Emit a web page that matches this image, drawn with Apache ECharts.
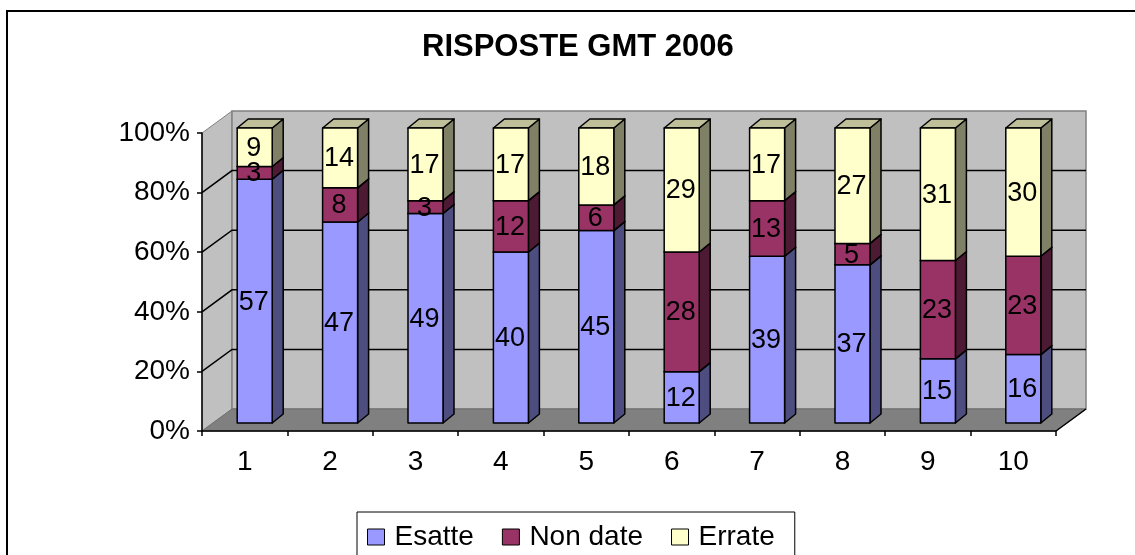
<!DOCTYPE html>
<html lang="it" style="height: 100%">
<head>
  <meta charset="utf-8">
  <title>Risposte GMT 2006</title>
  <style>
    body {
      margin: 0;
      background: #fff;
    }
    #container {
      width: 1135px;
      height: 555px;
    }
  </style>
</head>
<body style="height: 100%">
  <div id="container"></div>

  <script type="text/javascript" src="https://fastly.jsdelivr.net/npm/echarts@6/dist/echarts.min.js"></script>

  <script type="text/javascript">
    // Dati: numero di risposte per domanda
    var domande = ['1', '2', '3', '4', '5', '6', '7', '8', '9', '10'];
    var esatte  = [57, 47, 49, 40, 45, 12, 39, 37, 15, 16];
    var nonDate = [3, 8, 3, 12, 6, 28, 13, 5, 23, 23];
    var errate  = [9, 14, 17, 17, 18, 29, 17, 27, 31, 30];
    var nomiSerie = ['Esatte', 'Non date', 'Errate'];
    var tickPercent = [0, 20, 40, 60, 80, 100];

    var FONT = '"Liberation Sans", Arial, sans-serif';
    // colori: fronte, lato, sopra
    var colori = [
      ['#9999ff', '#4d4d80', '#7a7acc'],
      ['#993366', '#4d1a33', '#7a2952'],
      ['#ffffcc', '#808066', '#bfbf99']
    ];
    var PROF = [30, -22];     // profondità delle pareti
    var BAR_OFF = [10, -8];   // spostamento del fronte barra
    var BAR_PROF = [11, -9];  // profondità della barra

    // percentuali cumulate (100% in pila)
    var valori = [esatte, nonDate, errate];
    var pile = [[], [], []];
    var etichette = [];
    for (var i = 0; i < domande.length; i++) {
      var tot = esatte[i] + nonDate[i] + errate[i];
      var cum = 0;
      for (var s = 0; s < 3; s++) {
        var v = valori[s][i];
        var lo = cum / tot * 100;
        var hi = (cum + v) / tot * 100;
        pile[s].push([i, lo, hi, v]);
        etichette.push([i, (lo + hi) / 2, v]);
        cum += v;
      }
    }

    var dom = document.getElementById('container');
    var myChart = echarts.init(dom, null, { renderer: 'canvas' });

    // y sul piano delle barre (leggera prospettiva)
    function yBarra(api, pct) {
      var y0 = api.coord([0, 0])[1];
      var y = api.coord([0, pct])[1];
      return y0 + BAR_OFF[1] - (y0 - y) * 0.99;
    }

    function renderPareti(params, api) {
      var cs = params.coordSys;
      var x0 = cs.x, x1 = cs.x + cs.width;
      var yZero = api.coord([0, 0])[1];
      var yTop = api.coord([0, 100])[1];
      var dx = PROF[0], dy = PROF[1];
      var figli = [
        { // parete laterale
          type: 'polygon',
          shape: { points: [[x0, yZero], [x0 + dx, yZero + dy], [x0 + dx, yTop + dy], [x0, yTop]] },
          style: { fill: '#c0c0c0', stroke: '#808080', lineWidth: 1 }
        },
        { // parete di fondo
          type: 'rect',
          shape: { x: x0 + dx, y: yTop + dy, width: x1 - x0, height: yZero - yTop },
          style: { fill: '#c0c0c0', stroke: '#808080', lineWidth: 1.5 }
        },
        { // pavimento
          type: 'polygon',
          shape: { points: [[x0, yZero], [x1, yZero], [x1 + dx, yZero + dy], [x0 + dx, yZero + dy]] },
          style: { fill: '#808080', stroke: '#6e6e6e', lineWidth: 1 }
        },
        {
          type: 'line',
          shape: { x1: x1, y1: yZero, x2: x1 + dx, y2: yZero + dy },
          style: { stroke: '#000', lineWidth: 1.5 }
        }
      ];
      for (var k = 1; k < tickPercent.length - 1; k++) {
        var y = api.coord([0, tickPercent[k]])[1];
        figli.push({
          type: 'polyline',
          shape: { points: [[x0, y], [x0 + dx, y + dy], [x1 + dx, y + dy]] },
          style: { stroke: '#000', lineWidth: 1.5, fill: null }
        });
      }
      return { type: 'group', children: figli };
    }

    function creaRenderBarra(s) {
      return function (params, api) {
        var idx = api.value(0);
        var band = api.size([1, 0])[0];
        var w = band * 0.41;
        var xa = api.coord([idx, 0])[0] - w / 2 + BAR_OFF[0];
        var xb = xa + w;
        var yb = yBarra(api, api.value(1));
        var yt = yBarra(api, api.value(2));
        var dx = BAR_PROF[0], dy = BAR_PROF[1];
        var st = { stroke: '#000', lineWidth: 1.5, lineJoin: 'round' };
        return {
          type: 'group',
          children: [
            {
              type: 'polygon',
              shape: { points: [[xb, yb], [xb + dx, yb + dy], [xb + dx, yt + dy], [xb, yt]] },
              style: Object.assign({ fill: colori[s][1] }, st)
            },
            {
              type: 'polygon',
              shape: { points: [[xa, yt], [xb, yt], [xb + dx, yt + dy], [xa + dx, yt + dy]] },
              style: Object.assign({ fill: colori[s][2] }, st)
            },
            {
              type: 'rect',
              shape: { x: xa, y: yt, width: w, height: yb - yt },
              style: Object.assign({ fill: colori[s][0] }, st)
            }
          ]
        };
      };
    }

    function renderEtichette(params, api) {
      var idx = api.value(0);
      var x = api.coord([idx, 0])[0] + BAR_OFF[0] - 1;
      var y = yBarra(api, api.value(1)) + 1;
      return {
        type: 'text',
        style: {
          x: x,
          y: y,
          text: String(api.value(2)),
          fill: '#000',
          font: '27px ' + FONT,
          align: 'center',
          verticalAlign: 'middle'
        }
      };
    }

    var serie = [
      {
        name: 'pareti',
        type: 'custom',
        silent: true,
        z: 1,
        renderItem: renderPareti,
        data: [[0, 0]]
      }
    ];
    for (var s2 = 0; s2 < 3; s2++) {
      serie.push({
        name: nomiSerie[s2],
        type: 'custom',
        z: 2,
        itemStyle: { color: colori[s2][0] },
        renderItem: creaRenderBarra(s2),
        data: pile[s2]
      });
    }
    serie.push({
      name: 'etichette',
      type: 'custom',
      silent: true,
      z: 3,
      renderItem: renderEtichette,
      data: etichette
    });

    var option = {
      animation: false,
      textStyle: { fontFamily: FONT },
      title: {
        text: 'RISPOSTE GMT 2006',
        left: 422,
        top: 32,
        padding: 0,
        textStyle: { fontSize: 31, fontWeight: 'bold', color: '#000', fontFamily: FONT }
      },
      legend: {
        data: nomiSerie,
        left: 357,
        top: 512,
        padding: [11, 20, 11, 10],
        itemGap: 28,
        itemWidth: 17,
        itemHeight: 16,
        icon: 'rect',
        borderColor: '#000',
        borderWidth: 1,
        itemStyle: { borderColor: '#000', borderWidth: 1 },
        textStyle: { fontSize: 28, color: '#000', fontFamily: FONT, padding: [0, 0, 0, 5] }
      },
      grid: {
        left: 202,
        right: 79,
        top: 133,
        bottom: 124
      },
      xAxis: {
        type: 'category',
        data: domande,
        z: 5,
        axisLine: { lineStyle: { color: '#000', width: 1.5 } },
        axisTick: { show: true, length: 5, lineStyle: { color: '#000', width: 1.5 } },
        axisLabel: { fontSize: 28, color: '#000', margin: 17, fontFamily: FONT },
        splitLine: { show: false }
      },
      yAxis: {
        type: 'value',
        min: 0,
        max: 100,
        interval: 20,
        z: 5,
        axisLine: { show: true, lineStyle: { color: '#000', width: 1.5 } },
        axisTick: { show: true, length: 5, lineStyle: { color: '#000', width: 1.5 } },
        axisLabel: { fontSize: 28, color: '#000', margin: 12, formatter: '{value}%', fontFamily: FONT },
        splitLine: { show: false }
      },
      graphic: [
        {
          type: 'rect',
          silent: true,
          shape: { x: 7, y: 11, width: 1140, height: 560 },
          style: { fill: null, stroke: '#000', lineWidth: 2 }
        }
      ],
      series: serie
    };

    myChart.setOption(option);
    window.addEventListener('resize', myChart.resize);
  </script>
</body>
</html>
